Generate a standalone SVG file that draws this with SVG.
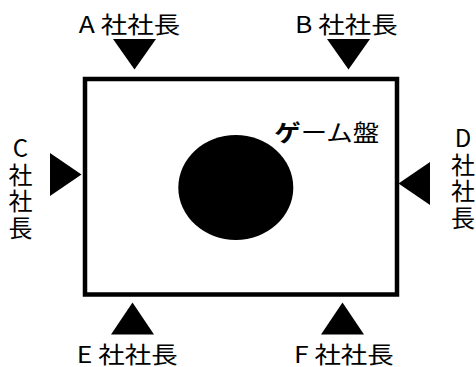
<svg xmlns="http://www.w3.org/2000/svg" width="476" height="367" viewBox="0 0 476 367">
<style>
text{font-family:"Noto Sans CJK JP","Noto Sans",sans-serif;font-size:24px;fill:#000}
.lbl{text-anchor:middle}
.h{font-size:23px;text-anchor:middle}
.tri{fill:#000}
</style>
<rect width="476" height="367" fill="#fff"/>
<g id="board">
<rect x="85" y="79" width="312" height="215.5" fill="#fff" stroke="#000" stroke-width="4.5"/>
<ellipse cx="235.8" cy="187.5" rx="57.5" ry="52.5" fill="#000"/>
<text class="h" transform="translate(326.7,141) scale(1.15,1)"><tspan font-weight="bold">ゲ</tspan>ーム盤</text>
</g>
<g id="connectors">
<polygon class="tri" points="113,39 156,39 134.5,69.5"/>
<polygon class="tri" points="327,39 370,39 348.5,69.5"/>
<polygon class="tri" points="50,153 50,196 81.5,174.5"/>
<polygon class="tri" points="430,162 430,205 398.5,183.5"/>
<polygon class="tri" points="111,334.5 154,334.5 132.5,302.5"/>
<polygon class="tri" points="321,334.5 364,334.5 342.5,302.5"/>
</g>
<g id="nodeA"><text class="h" transform="translate(129.5,33) scale(1.15,1)">A 社社長</text></g>
<g id="nodeB"><text class="h" transform="translate(346.3,33) scale(1.15,1)">B 社社長</text></g>
<g id="nodeC"><text class="lbl" x="20.5"><tspan x="20.5" y="157">C</tspan><tspan x="20.5" y="183.5">社</tspan><tspan x="20.5" y="210">社</tspan><tspan x="20.5" y="236.5">長</tspan></text></g>
<g id="nodeD"><text class="lbl" x="463"><tspan x="463" y="147">D</tspan><tspan x="463" y="173.5">社</tspan><tspan x="463" y="200">社</tspan><tspan x="463" y="226.5">長</tspan></text></g>
<g id="nodeE"><text class="h" transform="translate(127.2,363) scale(1.15,1)">E 社社長</text></g>
<g id="nodeF"><text class="h" transform="translate(343.8,363) scale(1.15,1)">F 社社長</text></g>
</svg>
